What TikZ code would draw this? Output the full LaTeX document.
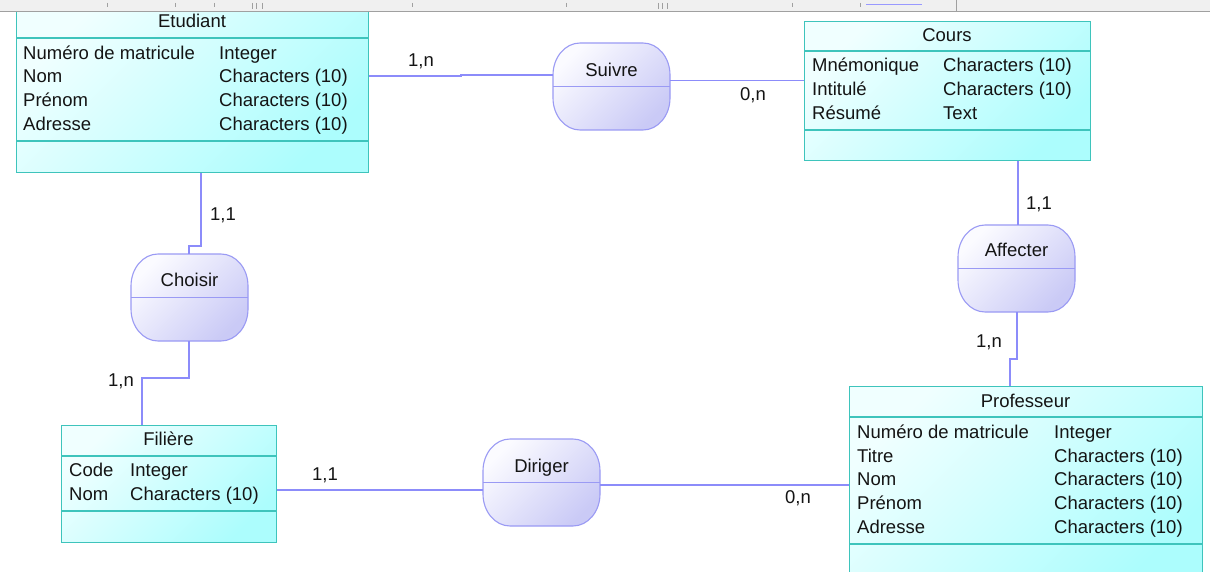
\documentclass[tikz,border=0pt]{standalone}
\usepackage{fontspec}
\setmainfont{Liberation Sans}
\definecolor{entB}{HTML}{3EC4BC}
\definecolor{entL}{HTML}{F0FFFF}
\definecolor{entD}{HTML}{ACFDFD}
\definecolor{asB}{HTML}{9A9AF4}
\definecolor{asL}{HTML}{FBFBFF}
\definecolor{asD}{HTML}{CACAF6}
\definecolor{conC}{HTML}{8C8CFA}
\definecolor{txtC}{HTML}{141414}
\definecolor{barC}{HTML}{F0F0F0}
\definecolor{barL}{HTML}{A0A0A0}
\newcommand\assocpath[2]{(#1+27,#2) -- ++(63,0) .. controls +(14.9,0) and +(0,-17.7) .. ++(27,32) -- ++(0,23) .. controls +(0,17.7) and +(14.9,0) .. ++(-27,32) -- ++(-63,0) .. controls +(-14.9,0) and +(0,17.7) .. ++(-27,-32) -- ++(0,-23) .. controls +(0,-17.7) and +(-14.9,0) .. ++(27,-32) -- cycle}
\tikzset{
 entity/.style={draw=entB, line width=1.4pt, top color=entL, bottom color=entD, shading angle=45, rectangle, inner sep=0pt, anchor=north west},
 entsep/.style={draw=entB, line width=1.4pt},
 txt/.style={inner sep=0pt, text=txtC, font=\fontsize{18.5}{21}\selectfont, anchor=base west},
 ttl/.style={txt, anchor=base},
 card/.style={txt, anchor=center},
 assocshape/.style={draw=asB, line width=1.1pt, top color=asL, bottom color=asD, shading angle=45},
 assocbox/.style={rectangle, inner sep=0pt, minimum width=117pt, minimum height=87pt, anchor=north west},
 asep/.style={draw=asB, line width=1.1pt},
 conn/.style={draw=conC, line width=1.1pt},
 tick/.style={draw=barL, line width=0.8pt},
}
\begin{document}
\begin{tikzpicture}[x=1pt,y=-1pt]
\useasboundingbox (0,0) rectangle (1210,572);
\clip (0,0) rectangle (1210,572);
\fill[white] (0,0) rectangle (1210,572);

% ---------- Etudiant ----------
\node[entity, minimum width=352pt, minimum height=168pt] (etu) at (16,4) {};
\draw[entsep] (etu.west |- 0,38) -- (etu.east |- 0,38);
\draw[entsep] (etu.west |- 0,141) -- (etu.east |- 0,141);
\node[ttl] (etu-t) at (192,27.5) {Etudiant};
\node[txt] (etu-a1) at (23,59.5) {Numéro de matricule};
\node[txt] (etu-b1) at (219,59.5) {Integer};
\node[txt] (etu-a2) at (23,82.5) {Nom};
\node[txt] (etu-b2) at (219,82.5) {Characters (10)};
\node[txt] (etu-a3) at (23,106.5) {Prénom};
\node[txt] (etu-b3) at (219,106.5) {Characters (10)};
\node[txt] (etu-a4) at (23,130.5) {Adresse};
\node[txt] (etu-b4) at (219,130.5) {Characters (10)};

% ---------- Cours ----------
\node[entity, minimum width=286pt, minimum height=139pt] (cours) at (804,21) {};
\draw[entsep] (cours.west |- 0,51) -- (cours.east |- 0,51);
\draw[entsep] (cours.west |- 0,130) -- (cours.east |- 0,130);
\node[ttl] (cours-t) at (947,41.5) {Cours};
\node[txt] (cours-a1) at (812,71.5) {Mnémonique};
\node[txt] (cours-b1) at (943,71.5) {Characters (10)};
\node[txt] (cours-a2) at (812,95.5) {Intitulé};
\node[txt] (cours-b2) at (943,95.5) {Characters (10)};
\node[txt] (cours-a3) at (812,119.5) {Résumé};
\node[txt] (cours-b3) at (943,119.5) {Text};

% ---------- Filiere ----------
\node[entity, minimum width=215pt, minimum height=117pt] (fil) at (61,425) {};
\draw[entsep] (fil.west |- 0,456) -- (fil.east |- 0,456);
\draw[entsep] (fil.west |- 0,511) -- (fil.east |- 0,511);
\node[ttl] (fil-t) at (168.5,445.5) {Filière};
\node[txt] (fil-a1) at (69,476.5) {Code};
\node[txt] (fil-b1) at (130,476.5) {Integer};
\node[txt] (fil-a2) at (69,500.5) {Nom};
\node[txt] (fil-b2) at (130,500.5) {Characters (10)};

% ---------- Professeur ----------
\node[entity, minimum width=353pt, minimum height=200pt] (prof) at (849,386) {};
\draw[entsep] (prof.west |- 0,417) -- (prof.east |- 0,417);
\draw[entsep] (prof.west |- 0,544) -- (prof.east |- 0,544);
\node[ttl] (prof-t) at (1025.5,407.5) {Professeur};
\node[txt] (prof-a1) at (857,438.5) {Numéro de matricule};
\node[txt] (prof-b1) at (1054,438.5) {Integer};
\node[txt] (prof-a2) at (857,462.5) {Titre};
\node[txt] (prof-b2) at (1054,462.5) {Characters (10)};
\node[txt] (prof-a3) at (857,485.5) {Nom};
\node[txt] (prof-b3) at (1054,485.5) {Characters (10)};
\node[txt] (prof-a4) at (857,509.5) {Prénom};
\node[txt] (prof-b4) at (1054,509.5) {Characters (10)};
\node[txt] (prof-a5) at (857,533.5) {Adresse};
\node[txt] (prof-b5) at (1054,533.5) {Characters (10)};

% ---------- Associations ----------
\shade[assocshape] \assocpath{553}{43};
\node[assocbox] (suivre) at (553,43) {};
\draw[asep] (suivre.west) -- (suivre.east);
\node[ttl] (suivre-t) at (611.5,76.5) {Suivre};

\shade[assocshape] \assocpath{131}{254};
\node[assocbox] (choisir) at (131,254) {};
\draw[asep] (choisir.west) -- (choisir.east);
\node[ttl] (choisir-t) at (189.5,286.5) {Choisir};

\shade[assocshape] \assocpath{958}{225};
\node[assocbox] (affecter) at (958,225) {};
\draw[asep] (affecter.west) -- (affecter.east);
\node[ttl] (affecter-t) at (1016.5,256.5) {Affecter};

\shade[assocshape] \assocpath{483}{439};
\node[assocbox] (diriger) at (483,439) {};
\draw[asep] (diriger.west) -- (diriger.east);
\node[ttl] (diriger-t) at (541.5,472.5) {Diriger};

% ---------- Connectors ----------
\draw[conn] (etu.east |- 0,76) -- (461,76) -- (461,75) -- (suivre.west |- 0,75);
\draw[conn] (suivre.east |- 0,80.5) -- (cours.west |- 0,80.5);
\draw[conn] (etu.south -| 201,0) -- (201,246) -- (189,246) -- (choisir.north -| 189,0);
\draw[conn] (choisir.south -| 189,0) -- (189,378) -- (142,378) -- (fil.north -| 142,0);
\draw[conn] (cours.south -| 1018,0) -- (affecter.north -| 1018,0);
\draw[conn] (affecter.south -| 1017,0) -- (1017,359) -- (1010,359) -- (prof.north -| 1010,0);
\draw[conn] (fil.east |- 0,490) -- (diriger.west |- 0,490);
\draw[conn] (diriger.east |- 0,485) -- (prof.west |- 0,485);

% ---------- Cardinalities ----------
\node[card] (c1) at (421,61) {1,n};
\node[card] (c2) at (753,95) {0,n};
\node[card] (c3) at (223,215) {1,1};
\node[card] (c4) at (121,381) {1,n};
\node[card] (c5) at (1039,204) {1,1};
\node[card] (c6) at (989,342) {1,n};
\node[card] (c7) at (325,475) {1,1};
\node[card] (c8) at (798,498) {0,n};

% ---------- toolbar strip ----------
\fill[barC] (0,0) rectangle (1210,11);
\draw[barL, line width=1.6pt] (0,11.5) -- (1210,11.5);
\foreach \tx in {107,175,214,412,566,792,860} \draw[tick] (\tx,3) -- (\tx,7);
\draw[tick] (252,3) -- (252,9) (256,3) -- (256,9) (262,3) -- (262,9);
\draw[tick] (658,3) -- (658,9) (662,3) -- (662,9) (667,3) -- (667,9);
\draw[draw=blue!40, line width=1pt] (866,4.5) -- (922,4.5);
\draw[tick] (956,0) -- (956,11);
\end{tikzpicture}
\end{document}
